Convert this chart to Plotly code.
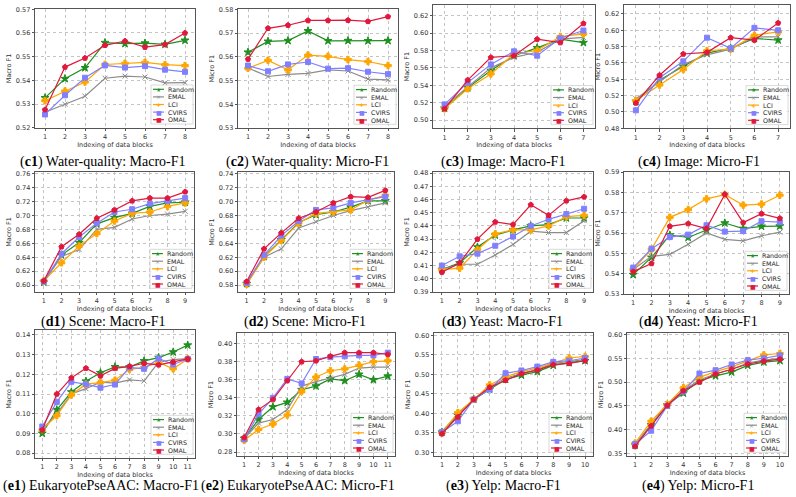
import plotly.graph_objects as go

W, H = 796, 497

methods = ["Random", "EMAL", "LCI", "CVIRS", "OMAL"]

# ---------------- data ----------------
# (c1) Water-quality Macro-F1
c1_random = [0.5326, 0.5407, 0.5453, 0.5559, 0.5555, 0.5557, 0.5552, 0.5569]
c1_emal = [0.5265, 0.5299, 0.5333, 0.5409, 0.5418, 0.5414, 0.5389, 0.5390]
c1_lci = [0.5314, 0.5355, 0.5393, 0.5467, 0.5472, 0.5476, 0.5466, 0.5462]
c1_cvirs = [0.5256, 0.5337, 0.5411, 0.5463, 0.5454, 0.5460, 0.5445, 0.5436]
c1_omal = [0.5276, 0.5456, 0.5494, 0.5548, 0.5566, 0.5540, 0.5551, 0.5600]
# (c2) Water-quality Micro-F1
c2_random = [0.5619, 0.5665, 0.5668, 0.5709, 0.5667, 0.5668, 0.5667, 0.5668]
c2_emal = [0.5553, 0.5517, 0.5526, 0.5530, 0.5545, 0.5540, 0.5506, 0.5503]
c2_lci = [0.5552, 0.5585, 0.5545, 0.5607, 0.5602, 0.5588, 0.5580, 0.5563]
c2_cvirs = [0.5563, 0.5539, 0.5568, 0.5578, 0.5550, 0.5552, 0.5537, 0.5527]
c2_omal = [0.5590, 0.5720, 0.5733, 0.5753, 0.5753, 0.5754, 0.5749, 0.5769]
# (c3) Image Macro-F1
c3_random = [0.5135, 0.537, 0.557, 0.574, 0.583, 0.593, 0.589]
c3_emal = [0.516, 0.538, 0.560, 0.572, 0.578, 0.593, 0.595]
c3_lci = [0.513, 0.536, 0.553, 0.576, 0.580, 0.596, 0.599]
c3_cvirs = [0.518, 0.543, 0.564, 0.579, 0.574, 0.594, 0.603]
c3_omal = [0.513, 0.546, 0.572, 0.574, 0.593, 0.589, 0.611]
# (c4) Image Micro-F1
c4_random = [0.513, 0.539, 0.556, 0.572, 0.578, 0.590, 0.588]
c4_emal = [0.516, 0.537, 0.558, 0.570, 0.577, 0.592, 0.592]
c4_lci = [0.514, 0.533, 0.552, 0.575, 0.577, 0.594, 0.598]
c4_cvirs = [0.502, 0.542, 0.562, 0.591, 0.578, 0.603, 0.600]
c4_omal = [0.511, 0.545, 0.571, 0.573, 0.591, 0.588, 0.609]
# (d1) Scene Macro-F1
d1_random = [0.604, 0.643, 0.661, 0.688, 0.697, 0.703, 0.713, 0.718, 0.719]
d1_emal = [0.605, 0.641, 0.651, 0.680, 0.683, 0.695, 0.700, 0.702, 0.706]
d1_lci = [0.606, 0.632, 0.656, 0.674, 0.692, 0.703, 0.705, 0.713, 0.718]
d1_cvirs = [0.605, 0.645, 0.669, 0.689, 0.705, 0.709, 0.717, 0.721, 0.725]
d1_omal = [0.606, 0.655, 0.673, 0.696, 0.708, 0.721, 0.725, 0.725, 0.734]
# (d2) Scene Micro-F1
d2_random = [0.582, 0.621, 0.645, 0.670, 0.681, 0.685, 0.692, 0.701, 0.701]
d2_emal = [0.582, 0.620, 0.632, 0.662, 0.671, 0.680, 0.687, 0.692, 0.698]
d2_lci = [0.581, 0.620, 0.644, 0.669, 0.683, 0.685, 0.688, 0.702, 0.709]
d2_cvirs = [0.583, 0.623, 0.651, 0.672, 0.688, 0.691, 0.698, 0.703, 0.707]
d2_omal = [0.585, 0.632, 0.655, 0.676, 0.685, 0.698, 0.707, 0.706, 0.716]
# (d3) Yeast Macro-F1
d3_random = [0.407, 0.412, 0.424, 0.433, 0.437, 0.440, 0.441, 0.446, 0.446]
d3_emal = [0.407, 0.411, 0.411, 0.418, 0.426, 0.436, 0.435, 0.435, 0.444]
d3_lci = [0.407, 0.408, 0.422, 0.434, 0.437, 0.437, 0.440, 0.447, 0.448]
d3_cvirs = [0.410, 0.417, 0.419, 0.425, 0.432, 0.440, 0.445, 0.449, 0.453]
d3_omal = [0.405, 0.412, 0.430, 0.443, 0.441, 0.456, 0.448, 0.459, 0.462]
# (d4) Yeast Micro-F1
d4_random = [0.5395, 0.548, 0.559, 0.5578, 0.5615, 0.5649, 0.5622, 0.5633, 0.5634]
d4_emal = [0.542, 0.5485, 0.5495, 0.5545, 0.560, 0.5569, 0.5561, 0.5586, 0.5604]
d4_lci = [0.542, 0.552, 0.5677, 0.5715, 0.5768, 0.5789, 0.5737, 0.5742, 0.5786]
d4_cvirs = [0.543, 0.5523, 0.558, 0.5592, 0.5638, 0.5607, 0.5609, 0.5658, 0.5653]
d4_omal = [0.541, 0.545, 0.5633, 0.5646, 0.5622, 0.5790, 0.5651, 0.5695, 0.5672]
# (e1) EukaryotePseAAC Macro-F1
e1_random = [0.090, 0.102, 0.111, 0.1165, 0.1208, 0.1238, 0.1237, 0.1268, 0.1285, 0.1313, 0.1348]
e1_emal = [0.092, 0.100, 0.110, 0.1127, 0.1160, 0.1155, 0.1172, 0.1166, 0.1262, 0.1275, 0.1280]
e1_lci = [0.092, 0.099, 0.1095, 0.1150, 0.1158, 0.1170, 0.1225, 0.1235, 0.1260, 0.1228, 0.1278]
e1_cvirs = [0.0935, 0.106, 0.1162, 0.1150, 0.1132, 0.1148, 0.1235, 0.1228, 0.1280, 0.1250, 0.1278]
e1_omal = [0.0917, 0.110, 0.1182, 0.1231, 0.1192, 0.1230, 0.1240, 0.1256, 0.1248, 0.1262, 0.1278]
# (e2) EukaryotePseAAC Micro-F1
e2_random = [0.295, 0.316, 0.330, 0.335, 0.349, 0.353, 0.361, 0.359, 0.366, 0.360, 0.364]
e2_emal = [0.295, 0.312, 0.316, 0.327, 0.353, 0.358, 0.362, 0.366, 0.373, 0.374, 0.374]
e2_lci = [0.293, 0.305, 0.311, 0.321, 0.347, 0.363, 0.370, 0.372, 0.376, 0.380, 0.381]
e2_cvirs = [0.294, 0.322, 0.340, 0.361, 0.356, 0.383, 0.385, 0.386, 0.387, 0.387, 0.390]
e2_omal = [0.296, 0.327, 0.338, 0.359, 0.380, 0.381, 0.386, 0.390, 0.390, 0.390, 0.388]
# (e3) Yelp Macro-F1
e3_random = [0.352, 0.395, 0.436, 0.462, 0.487, 0.498, 0.507, 0.523, 0.530, 0.535]
e3_emal = [0.354, 0.398, 0.436, 0.468, 0.490, 0.503, 0.512, 0.528, 0.533, 0.538]
e3_lci = [0.350, 0.402, 0.436, 0.473, 0.494, 0.507, 0.516, 0.530, 0.542, 0.546]
e3_cvirs = [0.352, 0.380, 0.436, 0.461, 0.503, 0.510, 0.520, 0.532, 0.535, 0.542]
e3_omal = [0.348, 0.391, 0.436, 0.467, 0.485, 0.502, 0.511, 0.525, 0.528, 0.535]
# (e4) Yelp Micro-F1
e4_random = [0.368, 0.410, 0.452, 0.477, 0.503, 0.513, 0.521, 0.535, 0.542, 0.545]
e4_emal = [0.369, 0.413, 0.455, 0.482, 0.505, 0.517, 0.527, 0.540, 0.546, 0.550]
e4_lci = [0.372, 0.418, 0.453, 0.488, 0.510, 0.522, 0.532, 0.545, 0.557, 0.560]
e4_cvirs = [0.370, 0.398, 0.450, 0.480, 0.518, 0.525, 0.537, 0.546, 0.550, 0.556]
e4_omal = [0.365, 0.408, 0.451, 0.482, 0.500, 0.517, 0.527, 0.538, 0.544, 0.548]

captions = [
    "(<b>c1</b>) Water-quality: Macro-F1", "(<b>c2</b>) Water-quality: Micro-F1",
    "(<b>c3</b>) Image: Macro-F1", "(<b>c4</b>) Image: Micro-F1",
    "(<b>d1</b>) Scene: Macro-F1", "(<b>d2</b>) Scene: Micro-F1",
    "(<b>d3</b>) Yeast: Macro-F1", "(<b>d4</b>) Yeast: Micro-F1",
    "(<b>e1</b>) EukaryotePseAAC: Macro-F1", "(<b>e2</b>) EukaryotePseAAC: Micro-F1",
    "(<b>e3</b>) Yelp: Macro-F1", "(<b>e4</b>) Yelp: Micro-F1",
]

# ---------------- styles ----------------
colors = ["#1f8f1f", "#8c8c8c", "#ffa500", "#8080ff", "#e0193c"]
symbols = ["star", "x-thin-open", "cross", "square", "pentagon"]
msizes = [6, 5, 5.5, 5, 5.5]
glyphs = ["\u2605", "\u00d7", "<b>+</b>", "\u25a0", "\u25a0"]

# pixel boxes (left, top, right, bottom), y-range, dtick, ytitle, caption pos
panels = [
    dict(data=[c1_random, c1_emal, c1_lci, c1_cvirs, c1_omal], box=(35, 9.3, 195, 127.7), yr=(0.52, 0.57), dt=0.01, yt="Macro F1", cap=(103, 162)),
    dict(data=[c2_random, c2_emal, c2_lci, c2_cvirs, c2_omal], box=(238, 9.3, 398, 128), yr=(0.53, 0.58), dt=0.01, yt="Micro F1", cap=(307, 162)),
    dict(data=[c3_random, c3_emal, c3_lci, c3_cvirs, c3_omal], box=(433, 5, 595, 128.3), yr=(0.4905, 0.6323), dt=0.02, yt="Macro F1", cap=(503, 162)),
    dict(data=[c4_random, c4_emal, c4_lci, c4_cvirs, c4_omal], box=(624, 5, 790, 128.3), yr=(0.48, 0.631), dt=0.02, yt="Micro F1", cap=(699, 162)),
    dict(data=[d1_random, d1_emal, d1_lci, d1_cvirs, d1_omal], box=(35, 172, 194, 292), yr=(0.59, 0.7625), dt=0.02, yt="Macro F1", cap=(103, 322)),
    dict(data=[d2_random, d2_emal, d2_lci, d2_cvirs, d2_omal], box=(238, 172, 394, 292), yr=(0.57, 0.7425), dt=0.02, yt="Micro F1", cap=(305, 322)),
    dict(data=[d3_random, d3_emal, d3_lci, d3_cvirs, d3_omal], box=(433, 172, 593, 292), yr=(0.39, 0.4808), dt=0.01, yt="Macro F1", cap=(502, 322)),
    dict(data=[d4_random, d4_emal, d4_lci, d4_cvirs, d4_omal], box=(624, 172, 789, 294), yr=(0.53, 0.59), dt=0.01, yt="Micro F1", cap=(698, 322)),
    dict(data=[e1_random, e1_emal, e1_lci, e1_cvirs, e1_omal], box=(35, 330, 195, 458), yr=(0.0775, 0.1425), dt=0.01, yt="Macro F1", cap=(101, 486)),
    dict(data=[e2_random, e2_emal, e2_lci, e2_cvirs, e2_omal], box=(237, 333, 395, 456), yr=(0.2756, 0.4118), dt=0.02, yt="Micro F1", cap=(298, 486)),
    dict(data=[e3_random, e3_emal, e3_lci, e3_cvirs, e3_omal], box=(434, 333, 593, 456), yr=(0.291, 0.606), dt=0.05, yt="Macro F1", cap=(503, 486)),
    dict(data=[e4_random, e4_emal, e4_lci, e4_cvirs, e4_omal], box=(627, 333, 788, 456), yr=(0.345, 0.603), dt=0.05, yt="Micro F1", cap=(698, 486)),
]

TICKFONT = dict(family="DejaVu Sans", size=6.5, color="#333333")
AXCOL = "#555555"

def px(x):
    return x / W

def py(y):
    return 1 - y / H

fig = go.Figure()
layout = dict(
    width=W, height=H, margin=dict(l=0, r=0, t=0, b=0),
    paper_bgcolor="white", plot_bgcolor="white", showlegend=False,
)
shapes = []
annotations = []

for i, p in enumerate(panels):
    n = i + 1
    xa = "x" if n == 1 else f"x{n}"
    ya = "y" if n == 1 else f"y{n}"
    npts = len(p["data"][0])
    xs = list(range(1, npts + 1))
    for k, series in enumerate(p["data"]):
        fig.add_trace(go.Scatter(
            x=xs, y=series, xaxis=xa, yaxis=ya, mode="lines+markers",
            name=methods[k],
            line=dict(color=colors[k], width=1.2),
            marker=dict(symbol=symbols[k], size=msizes[k], color=colors[k],
                        line=dict(width=1, color=colors[k])),
        ))
    l, t, r, b = p["box"]
    axcommon = dict(
        showgrid=True, gridcolor="#c4c4c4", griddash="dot", gridwidth=0.8,
        showline=True, mirror=True, linecolor=AXCOL, linewidth=0.8,
        ticks="outside", ticklen=2.5, tickwidth=0.8, tickcolor=AXCOL,
        tickfont=TICKFONT, zeroline=False, automargin=False,
    )
    layout["xaxis" if n == 1 else f"xaxis{n}"] = dict(
        domain=[px(l), px(r)], anchor=ya, range=[0.5, npts + 0.5],
        tickmode="array", tickvals=xs,
        title=dict(text="Indexing of data blocks", font=TICKFONT, standoff=0),
        **axcommon)
    y0, y1 = p["yr"]
    layout["yaxis" if n == 1 else f"yaxis{n}"] = dict(
        domain=[py(b), py(t)], anchor=xa, range=[y0, y1],
        tick0=0, dtick=p["dt"], tickformat=".2f",
        title=dict(text=p["yt"], font=TICKFONT, standoff=3),
        **axcommon)

    # legend box (lower right)
    bx1 = r - 2
    bx0 = bx1 - 42
    by1 = b - 3.7
    by0 = by1 - 39
    shapes.append(dict(type="rect", xref="paper", yref="paper",
                       x0=px(bx0), x1=px(bx1), y0=py(by1), y1=py(by0),
                       line=dict(color="#d0d0d0", width=0.8), fillcolor="rgba(255,255,255,0.85)",
                       layer="above"))
    for k, name in enumerate(methods):
        yy = by0 + 4.3 + k * 7.6
        shapes.append(dict(type="line", xref="paper", yref="paper",
                           x0=px(bx0 + 2), x1=px(bx0 + 13), y0=py(yy), y1=py(yy),
                           line=dict(color=colors[k], width=1.2), layer="above"))
        annotations.append(dict(xref="paper", yref="paper", x=px(bx0 + 7.5), y=py(yy),
                                text=glyphs[k], showarrow=False, xanchor="center", yanchor="middle",
                                font=dict(family="DejaVu Sans", size=6, color=colors[k]),
                                borderpad=0))
        annotations.append(dict(xref="paper", yref="paper", x=px(bx0 + 16), y=py(yy),
                                text=name, showarrow=False, xanchor="left", yanchor="middle",
                                font=dict(family="DejaVu Sans", size=6.3, color="#222222"),
                                borderpad=0))
    cx, cy = p["cap"]
    annotations.append(dict(xref="paper", yref="paper", x=px(cx), y=py(cy),
                            text=captions[i], showarrow=False, xanchor="center", yanchor="middle",
                            font=dict(family="Liberation Serif", size=14, color="black"),
                            borderpad=0))

layout["shapes"] = shapes
layout["annotations"] = annotations
fig.update_layout(**layout)
fig.write_html("out.html")
